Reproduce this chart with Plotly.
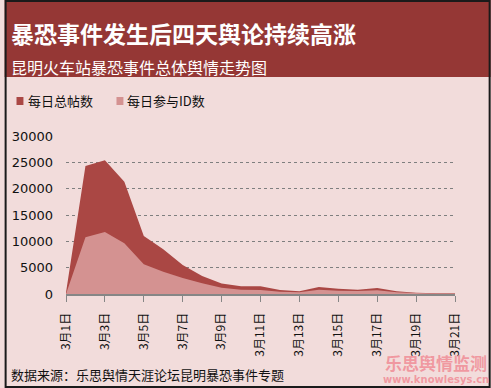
import plotly.graph_objects as go

dates = [f"3月{d}日" for d in range(1, 22)]
total_posts = [300, 24300, 25400, 21300, 11000, 8500, 5500, 3400, 2000, 1450, 1450,
               760, 500, 1330, 1000, 820, 1140, 500, 250, 130, 130]
user_ids = [0, 10760, 11770, 9620, 5630, 4240, 3040, 2030, 1200, 820, 760,
            440, 320, 820, 630, 570, 700, 320, 190, 100, 100]
series_names = ["每日总帖数", "每日参与ID数"]
title = "暴恐事件发生后四天舆论持续高涨"
subtitle = "昆明火车站暴恐事件总体舆情走势图"
source = "数据来源：乐思舆情天涯论坛昆明暴恐事件专题"

W, H = 491, 388
L, R, T, B = 62, 455, 136, 294
CJK = "Noto Sans CJK SC"
dark, light = "#AA4744", "#D49291"
bg = "#F2DCDB"
band = "#953735"


def px(x):
    return (x - L) / (R - L)


def py(y):
    return (B - y) / (B - T)


fig = go.Figure()
fig.add_trace(go.Scatter(x=dates, y=total_posts, name=series_names[0], mode="none",
                         fill="tozeroy", fillcolor=dark, showlegend=False))
fig.add_trace(go.Scatter(x=dates, y=user_ids, name=series_names[1], mode="none",
                         fill="tozeroy", fillcolor=light, showlegend=False))

shapes = [
    dict(type="rect", xref="paper", yref="paper", x0=px(0), x1=px(W), y0=py(77), y1=py(0),
         fillcolor=band, line_width=0, layer="below"),
    dict(type="rect", xref="paper", yref="paper", x0=px(12), x1=px(19), y0=py(105), y1=py(97),
         fillcolor=dark, line_width=0),
    dict(type="rect", xref="paper", yref="paper", x0=px(113), x1=px(120), y0=py(105), y1=py(97),
         fillcolor=light, line_width=0),
    dict(type="rect", xref="paper", yref="paper", x0=px(1), x1=px(W - 1), y0=py(H - 1), y1=py(1),
         line=dict(color="#1a1a1a", width=2), fillcolor="rgba(0,0,0,0)"),
]

annotations = [
    dict(text=f"<b>{title}</b>", x=px(4), y=py(33), xanchor="left", yanchor="middle",
         font=dict(family=CJK, size=23, color="white")),
    dict(text=subtitle, x=px(4), y=py(67), xanchor="left", yanchor="middle",
         font=dict(family=CJK, size=16, color="white")),
    dict(text=series_names[0], x=px(22), y=py(101), xanchor="left", yanchor="middle",
         font=dict(family=CJK, size=13, color="#111")),
    dict(text=series_names[1], x=px(122), y=py(101), xanchor="left", yanchor="middle",
         font=dict(family=CJK, size=13, color="#111")),
    dict(text=source, x=px(4), y=py(374), xanchor="left", yanchor="middle",
         font=dict(family=CJK, size=13, color="#111")),
    dict(text="<b>乐思舆情监测</b>", x=px(436), y=py(362), xanchor="center", yanchor="middle",
         font=dict(family=CJK, size=17, color="rgba(240,140,150,0.85)")),
    dict(text="<b>www.knowlesys.cn</b>", x=px(436), y=py(379), xanchor="center", yanchor="middle",
         font=dict(family="DejaVu Sans", size=10, color="rgba(240,140,150,0.85)")),
]
for a in annotations:
    a.update(xref="paper", yref="paper", showarrow=False)

fig.update_layout(
    width=W, height=H,
    margin=dict(l=L, r=W - R, t=T, b=H - B, pad=0),
    paper_bgcolor=bg, plot_bgcolor=bg,
    shapes=shapes, annotations=annotations,
    xaxis=dict(type="category", range=[0, 20], tickmode="array", tickvals=dates[::2],
               ticktext=dates[::2], tickangle=-90, ticks="outside", ticklen=6,
               tickcolor="#868686", showline=True, linecolor="#868686", linewidth=2,
               showgrid=False, zeroline=False, ticklabelstandoff=6,
               tickfont=dict(family=CJK, size=12, color="#111")),
    yaxis=dict(range=[0, 30000], dtick=5000, tickformat="d", showgrid=True, gridcolor="#7f7f7f",
               griddash="dot", gridwidth=1, zeroline=False, showline=False,
               ticklabelstandoff=12,
               tickfont=dict(family="DejaVu Sans", size=13, color="#111")),
)

fig.write_html("out.html", config={"displayModeBar": False},
               post_script="document.body.style.margin='0';document.body.style.overflow='hidden';")
